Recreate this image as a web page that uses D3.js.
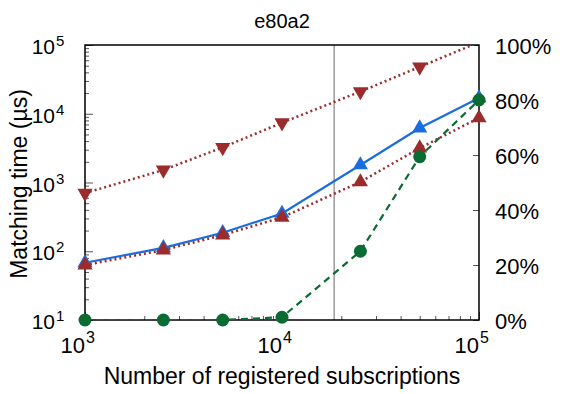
<!DOCTYPE html>
<html>
<head>
<meta charset="utf-8">
<script src="https://cdn.jsdelivr.net/npm/d3@7"></script>
<style>
  body { margin: 0; background: #fff; }
  svg { font-family: "Liberation Sans", Arial, Helvetica, sans-serif; }
</style>
</head>
<body>
<svg id="chart" width="563" height="394"></svg>
<script>
// data
var subscriptions = [1000, 2500, 5000, 10000, 25000, 50000, 100000];
var timeBlue      = [68, 112, 186, 355, 1800, 6200, 17000];
var timeRedUp     = [63, 104, 172, 311, 1020, 3170, 8700];
var timeRedDown   = [700, 1520, 3240, 7410, 21000, 48000, 110000];
var percentGreen  = [0, 0, 0, 1, 25, 59.4, 80];
var markerX       = 18400;
var xMajor = [1000, 10000, 100000];
var yMajor = [10, 100, 1000, 10000, 100000];
var pctTicks = [0, 20, 40, 60, 80, 100];

var svg = d3.select('#chart');
var padLeft = 85, padTop = 45, w = 394, h = 275;
var g = svg.append('g').attr('transform', 'translate(' + padLeft + ',' + padTop + ')');

var x = d3.scaleLog().domain([1000, 100000]).range([0, w]);
var y = d3.scaleLog().domain([10, 100000]).range([h, 0]);
var yp = d3.scaleLinear().domain([0, 100]).range([h, 0]);

function minors(lo, hi) {
  var out = [];
  for (var p = lo; p < hi; p *= 10)
    for (var k = 1; k <= 10; k++) out.push(p * k);
  return out.filter(function(v, i, a){ return a.indexOf(v) === i && v <= hi; });
}
function isMajor(v, list) { return list.indexOf(v) >= 0; }

svg.append('defs').append('clipPath').attr('id', 'clip')
  .append('rect').attr('width', w).attr('height', h);

// vertical marker line
g.append('line')
  .attr('x1', x(markerX)).attr('x2', x(markerX))
  .attr('y1', 0).attr('y2', h)
  .attr('stroke', '#999').attr('stroke-width', 1.5);

// bottom axis (ticks inside)
var gx = g.append('g').attr('transform', 'translate(0,' + h + ')')
  .call(d3.axisBottom(x).tickValues(minors(1000, 100000)).tickSizeInner(-4).tickSizeOuter(0).tickFormat(''));
gx.select('.domain').remove();
gx.selectAll('.tick line').attr('y2', function(d){ return isMajor(d, xMajor) ? -8 : -4; })
  .attr('stroke', '#555');

var gy = g.append('g')
  .call(d3.axisLeft(y).tickValues(minors(10, 100000)).tickSizeInner(-4).tickSizeOuter(0).tickFormat(''));
gy.select('.domain').remove();
gy.selectAll('.tick line').attr('x2', function(d){ return isMajor(d, yMajor) ? 8 : 4; })
  .attr('stroke', '#555');

var gr = g.append('g').attr('transform', 'translate(' + w + ',0)')
  .call(d3.axisRight(yp).tickValues(pctTicks).tickSizeInner(-6).tickSizeOuter(0).tickFormat(''));
gr.select('.domain').remove();
gr.selectAll('.tick line').attr('stroke', '#555');

// frame
g.append('rect').attr('width', w).attr('height', h)
  .attr('fill', 'none').attr('stroke', '#000').attr('stroke-width', 1.5);

// tick labels
xMajor.forEach(function(v) {
  var e = Math.round(Math.log10(v));
  g.append('text').attr('x', x(v)).attr('y', h + 33)
    .attr('text-anchor', 'end').attr('font-size', 22).text('10');
  g.append('text').attr('x', x(v) + 1).attr('y', h + 23)
    .attr('font-size', 16).text(e);
});
yMajor.forEach(function(v) {
  var e = Math.round(Math.log10(v));
  g.append('text').attr('x', -30).attr('y', y(v) + 9)
    .attr('text-anchor', 'end').attr('font-size', 21).text('10');
  g.append('text').attr('x', -29).attr('y', y(v) + 1)
    .attr('font-size', 15).text(e);
});
pctTicks.forEach(function(v) {
  g.append('text').attr('x', w + 16).attr('y', yp(v) + 9)
    .attr('font-size', 22).text(v + '%');
});

// titles
svg.append('text').attr('x', 282).attr('y', 28).attr('text-anchor', 'middle')
  .attr('font-size', 20).text('e80a2');
svg.append('text').attr('x', 282).attr('y', 384).attr('text-anchor', 'middle')
  .attr('font-size', 23).text('Number of registered subscriptions');
svg.append('text').attr('transform', 'translate(27,184) rotate(-90)')
  .attr('text-anchor', 'middle').attr('font-size', 23).text('Matching time (\u00b5s)');

// series
function drawSeries(vals, ys, color, dash, width, marker) {
  var pts = subscriptions.map(function(s, i){ return [s, vals[i]]; });
  var line = d3.line().x(function(d){ return x(d[0]); }).y(function(d){ return ys(d[1]); });
  g.append('path').datum(pts)
    .attr('clip-path', 'url(#clip)')
    .attr('d', line).attr('fill', 'none')
    .attr('stroke', color).attr('stroke-width', width)
    .attr('stroke-dasharray', dash);
  var inside = pts.filter(function(d){ var d0 = ys.domain(); return d[1] >= d0[0] && d[1] <= d0[1]; });
  var m = g.append('g').selectAll('path').data(inside).enter();
  if (marker === 'circle') {
    m.append('circle').attr('cx', function(d){ return x(d[0]); })
      .attr('cy', function(d){ return ys(d[1]); })
      .attr('r', 6.5).attr('fill', color);
  } else {
    m.append('path')
      .attr('d', d3.symbol().type(d3.symbolTriangle).size(100))
      .attr('transform', function(d){
        return 'translate(' + x(d[0]) + ',' + ys(d[1]) + ')' + (marker === 'down' ? ' rotate(180)' : '');
      })
      .attr('fill', color);
  }
}

drawSeries(timeBlue, y, '#1a6ddf', null, 2.2, 'up');
drawSeries(timeRedUp, y, '#9c2b2c', '2,3', 2.5, 'up');
drawSeries(timeRedDown, y, '#9c2b2c', '2,3', 2.5, 'down');
drawSeries(percentGreen, yp, '#0a6b33', '7,5', 2.2, 'circle');
</script>
</body>
</html>
